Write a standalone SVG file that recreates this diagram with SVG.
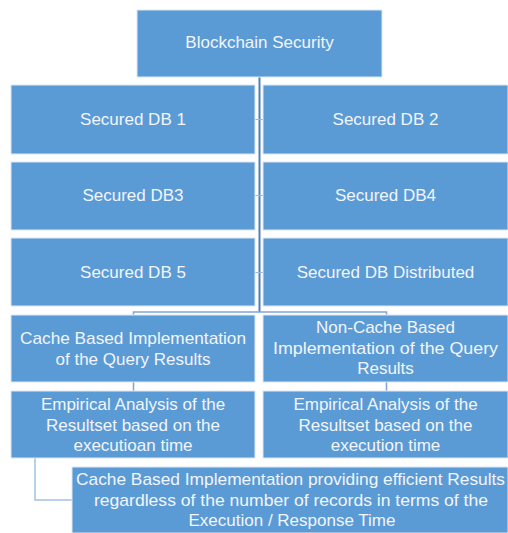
<svg xmlns="http://www.w3.org/2000/svg" width="508" height="533" viewBox="0 0 508 533">
<style>
.box{fill:#5B9BD5;stroke:#DDE8F4;stroke-width:1}
.t{font-family:"Liberation Sans",Arial,sans-serif;font-size:17px;fill:#F2F5FA;text-anchor:middle}
.ln{fill:none;stroke:#7FA6D3;stroke-width:1.5}
.trunk{fill:none;stroke:#4F7FB4;stroke-width:2}
.tick{fill:none;stroke:#9DB6D3;stroke-width:1}
</style>
<rect width="508" height="533" fill="#FFFFFF"/>
<g id="connectors">
<line class="trunk" x1="259.5" y1="77" x2="259.5" y2="312"/>
<line class="tick" x1="255" y1="119.5" x2="263" y2="119.5"/>
<line class="tick" x1="255" y1="195.5" x2="263" y2="195.5"/>
<line class="tick" x1="255" y1="272.5" x2="263" y2="272.5"/>
<polyline class="ln" points="133.5,315 133.5,312 386.5,312 386.5,315"/>
<line class="ln" x1="133.5" y1="382" x2="133.5" y2="391"/>
<line class="ln" x1="386.5" y1="382" x2="386.5" y2="391"/>
<polyline class="ln" points="35,458 35,500 72,500" style="stroke:#A3C0E3"/>
</g>
<g id="n-blockchain"><rect class="box" x="137" y="10" width="245" height="67"/><text class="t" x="259.5" y="48">Blockchain Security</text></g>
<g id="n-db1"><rect class="box" x="11" y="85" width="244" height="69"/><text class="t" x="133" y="125">Secured DB 1</text></g>
<g id="n-db2"><rect class="box" x="263" y="85" width="245" height="69"/><text class="t" x="385.5" y="125">Secured DB 2</text></g>
<g id="n-db3"><rect class="box" x="11" y="162" width="244" height="68"/><text class="t" x="133" y="201">Secured DB3</text></g>
<g id="n-db4"><rect class="box" x="263" y="162" width="245" height="68"/><text class="t" x="385.5" y="201">Secured DB4</text></g>
<g id="n-db5"><rect class="box" x="11" y="238" width="244" height="68"/><text class="t" x="133" y="278">Secured DB 5</text></g>
<g id="n-dbdist"><rect class="box" x="263" y="238" width="245" height="68"/><text class="t" x="385.5" y="278">Secured DB Distributed</text></g>
<g id="n-cache"><rect class="box" x="11" y="315" width="244" height="67"/>
<text class="t" x="133" y="344" textLength="226" lengthAdjust="spacingAndGlyphs">Cache Based Implementation</text>
<text class="t" x="133" y="365">of the Query Results</text></g>
<g id="n-noncache"><rect class="box" x="263" y="315" width="245" height="67"/>
<text class="t" x="385.5" y="333">Non-Cache Based</text>
<text class="t" x="385.5" y="354" textLength="225" lengthAdjust="spacingAndGlyphs">Implementation of the Query</text>
<text class="t" x="385.5" y="374">Results</text></g>
<g id="n-emp1"><rect class="box" x="11" y="391" width="244" height="67"/>
<text class="t" x="133" y="410">Empirical Analysis of the</text>
<text class="t" x="133" y="431">Resultset based on the</text>
<text class="t" x="133" y="451">executioan time</text></g>
<g id="n-emp2"><rect class="box" x="263" y="391" width="245" height="67"/>
<text class="t" x="385.5" y="410">Empirical Analysis of the</text>
<text class="t" x="385.5" y="431">Resultset based on the</text>
<text class="t" x="385.5" y="451">execution time</text></g>
<g id="n-final"><rect class="box" x="72" y="467" width="436" height="66"/>
<text class="t" x="290.5" y="485" textLength="429" lengthAdjust="spacingAndGlyphs">Cache Based Implementation providing efficient Results</text>
<text class="t" x="291" y="506" textLength="394" lengthAdjust="spacingAndGlyphs">regardless of the number  of records in terms of the</text>
<text class="t" x="292" y="526">Execution / Response Time</text></g>
</svg>
